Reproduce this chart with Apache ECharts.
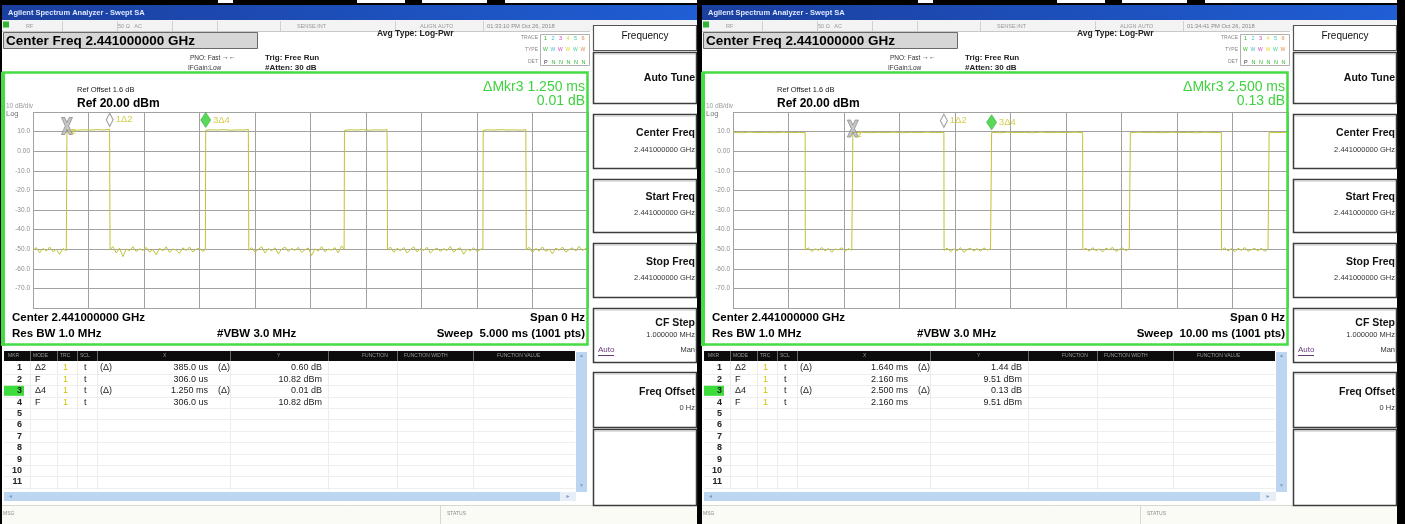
<!DOCTYPE html>
<html><head><meta charset="utf-8">
<script src="https://cdn.jsdelivr.net/npm/echarts@6/dist/echarts.min.js"></script>
<style>html,body{margin:0;padding:0;background:#000;}#c{width:1405px;height:524px;}</style>
</head><body><div id="c"></div>
<script>
// ---------- chart data ----------
const Y_MIN = -80, Y_MAX = 20, Y_STEP = 10;
const LEFT_SWEEP_MS = 5, RIGHT_SWEEP_MS = 10;

// zero-span trace, [time ms, level dBm]
const LEFT_TRACE = [
 [0,-50.5],[0.03,-49.2],[0.06,-51.8],[0.09,-49.6],[0.12,-50.9],[0.15,-48.9],[0.18,-51.3],[0.21,-50.1],[0.24,-52.6],[0.27,-49.7],[0.30,-50.8],
 [0.303,-50.2],[0.306,10.6],[0.34,10.9],[0.40,10.7],[0.46,10.9],[0.52,10.8],[0.58,11.0],[0.64,10.8],[0.69,11.2],
 [0.694,-50.3],[0.72,-48.6],[0.75,-51.9],[0.78,-49.4],[0.81,-53.8],[0.84,-49.9],[0.87,-50.8],[0.90,-48.7],[0.93,-51.2],[0.96,-49.8],[0.99,-50.6],[1.02,-49.1],[1.05,-51.5],[1.08,-50.2],[1.11,-52.8],[1.14,-49.5],[1.17,-50.9],[1.20,-48.8],[1.23,-51.6],[1.26,-49.9],[1.29,-50.4],[1.32,-52.1],[1.35,-49.3],[1.38,-50.7],[1.41,-48.9],[1.44,-51.4],[1.47,-50.0],[1.50,-49.6],[1.53,-51.1],
 [1.553,-50.2],[1.556,10.7],[1.60,10.9],[1.66,10.8],[1.72,11.0],[1.78,10.7],[1.84,10.9],[1.90,10.8],[1.94,11.1],
 [1.944,-50.6],[1.97,-49.2],[2.00,-51.5],[2.03,-50.1],[2.06,-48.8],[2.09,-51.9],[2.12,-49.7],[2.15,-50.8],[2.18,-49.3],[2.21,-52.4],[2.24,-50.0],[2.27,-48.9],[2.30,-51.2],[2.33,-49.6],[2.36,-50.7],[2.39,-49.0],[2.42,-51.7],[2.45,-50.3],[2.48,-49.4],[2.51,-53.2],[2.54,-49.8],[2.57,-50.9],[2.60,-48.7],[2.63,-51.3],[2.66,-49.9],[2.69,-50.5],[2.72,-49.2],[2.75,-51.8],[2.78,-48.3],
 [2.803,-50.1],[2.806,10.6],[2.85,10.9],[2.91,10.8],[2.97,11.0],[3.03,10.7],[3.09,10.9],[3.15,10.8],[3.19,11.0],
 [3.194,-50.4],[3.22,-48.9],[3.25,-51.6],[3.28,-49.5],[3.31,-50.8],[3.34,-49.1],[3.37,-52.0],[3.40,-50.2],[3.43,-48.8],[3.46,-51.4],[3.49,-49.7],[3.52,-50.6],[3.55,-49.0],[3.58,-51.9],[3.61,-50.3],[3.64,-49.4],[3.67,-51.1],[3.70,-49.8],[3.73,-50.7],[3.76,-48.6],[3.79,-51.5],[3.82,-50.0],[3.85,-49.3],[3.88,-52.6],[3.91,-49.9],[3.94,-50.8],[3.97,-49.2],[4.00,-51.3],[4.03,-50.1],
 [4.053,-49.8],[4.056,10.7],[4.10,10.9],[4.16,10.8],[4.22,11.0],[4.28,10.8],[4.34,10.9],[4.40,10.7],[4.44,11.0],
 [4.444,-50.3],[4.47,-49.0],[4.50,-51.7],[4.53,-49.6],[4.56,-50.9],[4.59,-48.8],[4.62,-51.2],[4.65,-50.0],[4.68,-52.3],[4.71,-49.4],[4.74,-50.6],[4.77,-48.9],[4.80,-51.5],[4.83,-50.2],[4.86,-49.3],[4.89,-51.0],[4.92,-48.5],[4.95,-50.7],[4.98,-49.6],[5.00,-50.4]
];
const RIGHT_TRACE = [
 [0,9.6],[0.15,9.4],[0.3,9.7],[0.45,9.5],[0.6,9.6],[0.75,9.4],[0.9,9.7],[1.05,9.5],[1.2,9.6],[1.30,9.5],
 [1.303,-50.4],[1.36,-49.3],[1.42,-51.2],[1.48,-49.8],[1.54,-50.6],[1.60,-49.1],[1.66,-50.9],[1.72,-49.6],[1.78,-51.5],[1.84,-49.9],[1.90,-50.3],[1.96,-49.2],[2.02,-51.0],[2.08,-49.7],[2.14,-50.5],
 [2.157,-50.0],[2.160,9.5],[2.3,9.7],[2.45,9.4],[2.6,9.6],[2.75,9.5],[2.9,9.7],[3.05,9.4],[3.2,9.6],[3.35,9.5],[3.5,9.7],[3.65,9.5],[3.80,9.6],
 [3.803,-50.6],[3.86,-49.4],[3.92,-51.3],[3.98,-49.9],[4.04,-50.8],[4.10,-49.2],[4.16,-51.6],[4.22,-50.1],[4.28,-49.5],[4.34,-50.9],[4.40,-49.7],[4.46,-51.1],[4.52,-49.3],[4.58,-50.4],[4.64,-49.8],
 [4.657,-50.2],[4.660,9.6],[4.8,9.4],[4.95,9.7],[5.1,9.5],[5.25,9.6],[5.4,9.4],[5.55,9.7],[5.7,9.5],[5.85,9.6],[6.0,9.5],[6.15,9.7],[6.30,9.5],
 [6.303,-50.3],[6.36,-49.6],[6.42,-51.0],[6.48,-49.2],[6.54,-50.7],[6.60,-49.9],[6.66,-51.4],[6.72,-49.5],[6.78,-50.3],[6.84,-49.0],[6.90,-51.2],[6.96,-50.1],[7.02,-49.4],[7.08,-50.8],[7.14,-49.7],
 [7.157,-50.1],[7.160,9.5],[7.3,9.7],[7.45,9.5],[7.6,9.6],[7.75,9.4],[7.9,9.7],[8.05,9.5],[8.2,9.6],[8.35,9.4],[8.5,9.7],[8.65,9.5],[8.80,9.6],
 [8.803,-50.5],[8.86,-49.3],[8.92,-50.9],[8.98,-49.7],[9.04,-51.3],[9.10,-49.5],[9.16,-50.6],[9.22,-49.1],[9.28,-51.0],[9.34,-50.2],[9.40,-49.6],[9.46,-50.8],[9.52,-49.4],[9.58,-51.1],[9.64,-49.9],
 [9.657,-50.0],[9.660,9.6],[9.8,9.5],[10.0,9.7]
];

// markers: label, time (ms), level (dBm), kind
const LEFT_MARKERS = [
 ['2', 0.306, 10.82, 'fixed'],
 ['1Δ2', 0.691, 11.42, 'delta'],
 ['3Δ4', 1.556, 10.83, 'active']
];
const RIGHT_MARKERS = [
 ['2', 2.160, 9.51, 'fixed'],
 ['1Δ2', 3.800, 10.95, 'delta'],
 ['3Δ4', 4.660, 9.64, 'active']
];

// marker table rows: mkr, mode, trc, scl, x-flag, x, y-flag, y
const LEFT_TABLE = [
 ['1','Δ2','1','t','(Δ)','385.0 us','(Δ)','0.60 dB'],
 ['2','F','1','t','','306.0 us','','10.82 dBm'],
 ['3','Δ4','1','t','(Δ)','1.250 ms','(Δ)','0.01 dB'],
 ['4','F','1','t','','306.0 us','','10.82 dBm']
];
const RIGHT_TABLE = [
 ['1','Δ2','1','t','(Δ)','1.640 ms','(Δ)','1.44 dB'],
 ['2','F','1','t','','2.160 ms','','9.51 dBm'],
 ['3','Δ4','1','t','(Δ)','2.500 ms','(Δ)','0.13 dB'],
 ['4','F','1','t','','2.160 ms','','9.51 dBm']
];
const LEFT_TEXT = {time:'01:33:10 PM Oct 26, 2018', mkr:'ΔMkr3 1.250 ms', mkrVal:'0.01 dB', sweep:'Sweep  5.000 ms (1001 pts)'};
const RIGHT_TEXT = {time:'01:34:41 PM Oct 26, 2018', mkr:'ΔMkr3 2.500 ms', mkrVal:'0.13 dB', sweep:'Sweep  10.00 ms (1001 pts)'};

// ---------- drawing helpers ----------
const FF = '"Liberation Sans", Arial, Helvetica, sans-serif';
function txt(x, y, s, size, o) {
  o = o || {};
  const al = o.align || 'left';
  return {type:'text', x:x, y:y, z:o.z || 30, silent:true,
    style:{text:s, fill:o.color || '#000', font:(o.bold ? 'bold ' : '') + size + 'px ' + FF,
      align:al, textAlign:al, verticalAlign:'middle', textVerticalAlign:'middle'}};
}
function rc(x, y, w, h, fill, stroke, lw, z) {
  return {type:'rect', silent:true, z:(z == null ? -5 : z), shape:{x:x, y:y, width:w, height:h},
    style:{fill:fill || 'none', stroke:stroke || 'none', lineWidth:lw || 1}};
}
function ln(x1, y1, x2, y2, stroke, lw, z) {
  return {type:'line', silent:true, z:(z == null ? 25 : z), shape:{x1:x1, y1:y1, x2:x2, y2:y2},
    style:{stroke:stroke, lineWidth:lw || 1}};
}

function panel(ox, T, table) {
  const e = [];
  e.push(rc(2, 5, 695, 519, '#ffffff', null, 1, -20));
  e.push({type:'rect', silent:true, z:-4, shape:{x:2, y:5, width:695, height:15},
    style:{fill:new echarts.graphic.LinearGradient(0, 0, 1, 0, [{offset:0, color:'#1b3f9e'}, {offset:1, color:'#1f5ed4'}])}});
  e.push(txt(8, 12.5, 'Agilent Spectrum Analyzer - Swept SA', 7.5, {bold:true, color:'#dfe8ff'}));
  e.push(rc(2, 20, 695, 11, '#f3f3f3', null, 1, -4));
  e.push(ln(2, 31.5, 590, 31.5, '#c8c8c8', 1, -3));
  [62, 117, 172, 217, 280, 395, 483].forEach(x => e.push(ln(x + .5, 21, x + .5, 31, '#d0d0d0', 1, -3)));
  e.push(rc(3, 21.5, 6, 6, '#2fb52f', null, 1, -2));
  e.push(txt(26, 26, 'RF', 5.5, {color:'#999'}));
  e.push(txt(118, 26, '50 Ω   AC', 5.5, {color:'#999'}));
  e.push(txt(297, 26, 'SENSE:INT', 5.5, {color:'#999'}));
  e.push(txt(420, 26, 'ALIGN AUTO', 5.5, {color:'#999'}));
  e.push(txt(487, 26, T.time, 5.8, {color:'#888'}));
  e.push(rc(3.5, 32.5, 254, 16, '#d6d6d6', '#6a6a6a', 1, -3));
  e.push(txt(6, 41, 'Center Freq 2.441000000 GHz', 13.5, {bold:true}));
  e.push(txt(190, 58, 'PNO: Fast', 6.5, {color:'#333'}));
  e.push(txt(222, 57, '→←', 7, {color:'#333'}));
  e.push(txt(188, 68, 'IFGain:Low', 6.5, {color:'#333'}));
  e.push(txt(265, 58, 'Trig: Free Run', 8, {bold:true, color:'#222'}));
  e.push(txt(265, 68, '#Atten: 30 dB', 8, {bold:true, color:'#222'}));
  e.push(txt(377, 34, 'Avg Type: Log-Pwr', 8.5, {bold:true, color:'#222'}));
  e.push(rc(540.5, 34.5, 49, 31, '#ffffff', '#b0b0b0', 1, -3));
  e.push(txt(538, 38, 'TRACE', 5, {align:'right', color:'#888'}));
  e.push(txt(538, 50, 'TYPE', 5, {align:'right', color:'#888'}));
  e.push(txt(538, 62, 'DET', 5, {align:'right', color:'#888'}));
  const tc = ['#2fb52f', '#44bbdd', '#cc44cc', '#dddd33', '#44cc99', '#dd8844'];
  ['1','2','3','4','5','6'].forEach((s, i) => e.push(txt(544 + i * 7.5, 38, s, 5.5, {color:tc[i]})));
  ['W','W','W','W','W','W'].forEach((s, i) => e.push(txt(543 + i * 7.5, 50, s, 5, {color:tc[i]})));
  ['P','N','N','N','N','N'].forEach((s, i) => e.push(txt(544 + i * 7.5, 62, s, 5.5, {color:i ? '#2fb52f' : '#333'})));
  e.push(rc(3.5, 72.5, 584, 272, 'none', '#46dc46', 2.5, 40));
  e.push(rc(1, 72, 4, 274, '#46dc46', null, 1, 40));
  e.push(txt(77, 90, 'Ref Offset 1.6 dB', 7.5, {color:'#222'}));
  e.push(txt(77, 104, 'Ref 20.00 dBm', 12, {bold:true}));
  e.push(txt(6, 106, '10 dB/div', 6.5, {color:'#999'}));
  e.push(txt(6, 114, 'Log', 7.5, {color:'#777'}));
  e.push(txt(585, 87, T.mkr, 14, {align:'right', color:'#3fd23f'}));
  e.push(txt(585, 101, T.mkrVal, 14, {align:'right', color:'#3fd23f'}));
  e.push(txt(12, 318, 'Center 2.441000000 GHz', 11.5, {bold:true}));
  e.push(txt(12, 334, 'Res BW 1.0 MHz', 11.5, {bold:true}));
  e.push(txt(217, 334, '#VBW 3.0 MHz', 11.5, {bold:true}));
  e.push(txt(585, 318, 'Span 0 Hz', 11.5, {bold:true, align:'right'}));
  e.push(txt(585, 334, T.sweep, 11.5, {bold:true, align:'right'}));
  e.push(rc(4, 351, 571, 10, '#0c0c0c', null, 1, -3));
  const cols = [30, 57, 77, 97, 230, 328, 397, 473];
  cols.forEach(x => { e.push(ln(x + .5, 351, x + .5, 361, '#666', 1, -2)); e.push(ln(x + .5, 362, x + .5, 490, '#ececec', 1, -4)); });
  const hd = [[8,'MKR'],[33,'MODE'],[60,'TRC'],[80,'SCL'],[163,'X'],[277,'Y'],[362,'FUNCTION'],[404,'FUNCTION WIDTH'],[497,'FUNCTION VALUE']];
  hd.forEach(h => e.push(txt(h[0], 356, h[1], 5, {color:'#9a9a9a'})));
  for (let i = 0; i < 11; i++) {
    const y = 368 + i * 11.4;
    e.push(ln(4, Math.round(y + 5.7) + .5, 575, Math.round(y + 5.7) + .5, '#eeeeee', 1, -4));
    if (i === 2) e.push(rc(4, y - 5, 20, 10, '#3cdc3c', null, 1, -3));
    e.push(txt(22, y, String(i + 1), 9, {align:'right', bold:true, color:'#222'}));
  }
  table.forEach((r, i) => {
    const y = 368 + i * 11.4;
    e.push(txt(35, y, r[1], 9, {color:'#222'}));
    e.push(txt(63, y, r[2], 9, {color:'#d0c400'}));
    e.push(txt(84, y, r[3], 9, {color:'#222'}));
    if (r[4]) e.push(txt(100, y, r[4], 9, {color:'#222'}));
    e.push(txt(208, y, r[5], 9, {align:'right', color:'#222'}));
    if (r[6]) e.push(txt(218, y, r[6], 9, {color:'#222'}));
    e.push(txt(322, y, r[7], 9, {align:'right', color:'#222'}));
  });
  e.push(rc(576, 352, 11, 140, '#bcd5f0', null, 1, -3));
  e.push(txt(581.5, 356, '▲', 5, {align:'center', color:'#7a9cc8'}));
  e.push(txt(581.5, 486, '▼', 5, {align:'center', color:'#7a9cc8'}));
  e.push(rc(4, 492, 556, 9, '#bcd5f0', null, 1, -3));
  e.push(txt(8, 496.5, '◄', 5, {color:'#7a9cc8'}));
  e.push(rc(560, 492, 16, 9, '#e6eef8', null, 1, -3));
  e.push(txt(568, 496.5, '►', 5, {align:'center', color:'#7a9cc8'}));
  e.push(rc(2, 505, 695, 19, '#fbfbf6', null, 1, -4));
  e.push(ln(2, 505.5, 697, 505.5, '#d8d8d0', 1, -3));
  e.push(ln(440.5, 506, 440.5, 524, '#d8d8d0', 1, -3));
  e.push(txt(3, 514, 'MSG', 5, {color:'#888'}));
  e.push(txt(447, 514, 'STATUS', 5, {color:'#888'}));
  e.push(rc(593.5, 25.5, 103, 25, '#ffffff', '#555', 1.2, -2));
  e.push(txt(645, 36.5, 'Frequency', 10, {align:'center', color:'#111'}));
  const keys = [
    [52, 51, 'Auto Tune', '', 26, 0],
    [114, 54, 'Center Freq', '2.441000000 GHz', 19, 36],
    [179, 53, 'Start Freq', '2.441000000 GHz', 18, 34],
    [243, 54, 'Stop Freq', '2.441000000 GHz', 19, 35],
    [308, 54, 'CF Step', '1.000000 MHz', 15, 27],
    [372, 55, 'Freq Offset', '0 Hz', 20, 36],
    [429, 76, '', '', 0, 0]
  ];
  keys.forEach(k => {
    e.push(rc(593.5, k[0] + .5, 103, k[1], '#ffffff', '#3c3c3c', 1.5, -2));
    e.push(ln(595, k[0] + 2.5, 695, k[0] + 2.5, '#e0e0e0', 1, -1));
    if (k[2]) e.push(txt(695, k[0] + k[4], k[2], 10.5, {bold:true, align:'right', color:'#111'}));
    if (k[3]) e.push(txt(695, k[0] + k[5], k[3], 7.5, {align:'right', color:'#333'}));
  });
  e.push(txt(598, 350, 'Auto', 8, {color:'#6a3a7a'}));
  e.push(ln(598, 355.5, 614, 355.5, '#6a3a7a', 1, 30));
  e.push(txt(695, 350, 'Man', 7.5, {align:'right', color:'#333'}));
  return {type:'group', x:ox, y:0, children:e};
}

const topEls = [];
[0, 700].forEach(ox => {
  topEls.push(rc(ox + 2, 0, 695, 3, '#ffffff', null, 1, -19));
  [[0, 218], [233, 357], [405, 422], [487, 505]].forEach(b => topEls.push(rc(ox + b[0], 0, b[1] - b[0], 3, '#000', null, 1, -18)));
});

// ---------- series ----------
const XPATH = 'path://M0,0L3,0L5,6L7,0L10,0L6.5,10L10,20L7,20L5,14L3,20L0,20L3.5,10Z';
function markerData(list) {
  return list.map(m => {
    const d = {value:[m[1], m[2]], name:m[0]};
    if (m[3] === 'fixed') {
      d.symbol = XPATH; d.symbolSize = [11, 17]; d.symbolOffset = [0, -4];
      d.itemStyle = {color:'#b9b9b9', borderColor:'#7a7a7a', borderWidth:0.8};
      d.label = {show:true, formatter:m[0], position:[10, 11], color:'#c9c21e', fontSize:8, fontWeight:'bold', fontFamily:FF};
    } else if (m[3] === 'delta') {
      d.symbol = 'diamond'; d.symbolSize = [7, 13]; d.symbolOffset = [0, -9];
      d.itemStyle = {color:'#ffffff', borderColor:'#8a8a8a', borderWidth:1.2};
      d.label = {show:true, formatter:m[0], position:'right', distance:2, color:'#c9c21e', fontSize:9.5, fontFamily:FF};
    } else {
      d.symbol = 'diamond'; d.symbolSize = [10, 15]; d.symbolOffset = [0, -10];
      d.itemStyle = {color:'#2fd02f', borderColor:'#1a9a1a', borderWidth:0.6};
      d.label = {show:true, formatter:m[0], position:'right', distance:2, color:'#c9c21e', fontSize:9.5, fontFamily:FF};
    }
    return d;
  });
}
function yFmt(v) { if (v === Y_MAX || v === Y_MIN) return ''; if (v === 0) return '0.00'; return v.toFixed(1); }
function xAx(i, max) {
  return {gridIndex:i, type:'value', min:0, max:max, interval:max / 10,
    axisLabel:{show:false}, axisTick:{show:false}, axisLine:{show:false},
    splitLine:{show:true, lineStyle:{color:'#a2a2a2', width:1}}};
}
function yAx(i) {
  return {gridIndex:i, type:'value', min:Y_MIN, max:Y_MAX, interval:Y_STEP,
    axisLabel:{show:true, formatter:yFmt, fontSize:6.5, color:'#8e8e8e', margin:3, fontFamily:FF},
    axisTick:{show:false}, axisLine:{show:false},
    splitLine:{show:true, lineStyle:{color:'#a2a2a2', width:1}}};
}

const chart = echarts.init(document.getElementById('c'), null, {renderer:'canvas'});
chart.setOption({
  animation:false,
  backgroundColor:'#000000',
  grid:[
    {left:33, top:112, width:555, height:196, outerBoundsMode:'none', containLabel:false},
    {left:733, top:112, width:555, height:196, outerBoundsMode:'none', containLabel:false}
  ],
  xAxis:[xAx(0, LEFT_SWEEP_MS), xAx(1, RIGHT_SWEEP_MS)],
  yAxis:[yAx(0), yAx(1)],
  series:[
    {type:'line', xAxisIndex:0, yAxisIndex:0, data:LEFT_TRACE, showSymbol:false, silent:true, z:3,
      lineStyle:{color:'#c2c23a', width:1}},
    {type:'line', xAxisIndex:1, yAxisIndex:1, data:RIGHT_TRACE, showSymbol:false, silent:true, z:3,
      lineStyle:{color:'#c2c23a', width:1}},
    {type:'scatter', xAxisIndex:0, yAxisIndex:0, data:markerData(LEFT_MARKERS), silent:true, z:5},
    {type:'scatter', xAxisIndex:1, yAxisIndex:1, data:markerData(RIGHT_MARKERS), silent:true, z:5}
  ],
  graphic:{elements:topEls.concat([panel(0, LEFT_TEXT, LEFT_TABLE), panel(700, RIGHT_TEXT, RIGHT_TABLE)])}
});
</script>
</body></html>
